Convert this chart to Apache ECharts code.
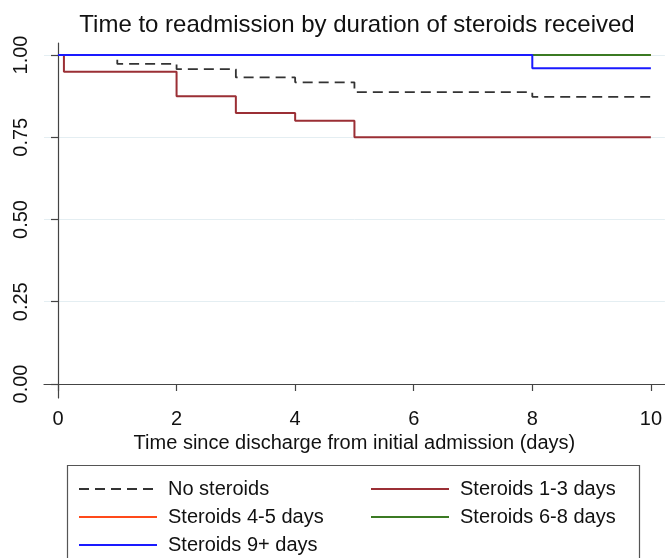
<!DOCTYPE html>
<html><head><meta charset="utf-8">
<script src="https://cdn.jsdelivr.net/npm/echarts@6/dist/echarts.min.js"></script>
<style>html,body{margin:0;padding:0;background:#fff}#c{width:665px;height:558px}</style>
</head><body><div id="c"></div>
<script>
const xTicks = [0, 2, 4, 6, 8, 10];
const yTicks = [0, 0.25, 0.5, 0.75, 1];
const noSteroidsT = [0, 1, 2, 3, 4, 5, 8, 10];
const noSteroidsS = [1, 0.973, 0.957, 0.932, 0.917, 0.887, 0.873, 0.873];
const st13T = [0, 0.1, 2, 3, 4, 5, 10];
const st13S = [1, 0.949, 0.875, 0.824, 0.80, 0.75, 0.75];
const st45T = [0, 10];
const st45S = [1, 1];
const st68T = [0, 10];
const st68S = [1, 1];
const st9T = [0, 8, 10];
const st9S = [1, 0.96, 0.96];
const names = ['No steroids', 'Steroids 1-3 days', 'Steroids 4-5 days', 'Steroids 6-8 days', 'Steroids 9+ days'];

const zip = (t, s) => t.map((v, i) => [v, s[i]]);
const FONT = 'Liberation Sans, Arial, Helvetica, sans-serif';
const chart = echarts.init(document.getElementById('c'), null, {renderer: 'canvas'});

function ser(name, t, s, color, type, width) {
  return {
    name, type: 'line', step: 'end', symbol: 'none', data: zip(t, s),
    lineStyle: {color, type, width}, itemStyle: {color}, animation: false
  };
}

function leg(name, left, rowCenter) {
  return {
    left, top: rowCenter - 10, orient: 'horizontal', data: [name], padding: 0,
    itemWidth: 78, itemHeight: 14, itemGap: 0,
    itemStyle: {opacity: 0, borderWidth: 0},
    textStyle: {fontFamily: FONT, fontSize: 20, color: '#111', padding: [0, 0, 0, 6]},
    selectedMode: false
  };
}

chart.setOption({
  animation: false,
  title: {
    text: 'Time to readmission by duration of steroids received',
    left: 352, textAlign: 'center', top: 8,
    textStyle: {fontFamily: FONT, fontSize: 24, fontWeight: 'normal', color: '#111'}
  },
  grid: {left: 44, right: 0, top: 43, bottom: 160, containLabel: false},
  xAxis: {
    type: 'value', min: -0.236, max: 10.236,
    name: 'Time since discharge from initial admission (days)',
    nameLocation: 'middle', nameGap: 35,
    nameTextStyle: {fontFamily: FONT, fontSize: 20, color: '#111'},
    axisLine: {show: true, lineStyle: {color: '#444', width: 1.2}},
    axisTick: {show: true, customValues: xTicks, length: 7, lineStyle: {color: '#444', width: 1.2}},
    axisLabel: {customValues: xTicks, fontFamily: FONT, fontSize: 20, color: '#111', margin: 11},
    splitLine: {show: false}
  },
  yAxis: {
    type: 'value', min: -0.0426, max: 1.0365,
    axisLine: {show: true, lineStyle: {color: '#444', width: 1.2}},
    axisTick: {show: true, customValues: yTicks, length: 7, lineStyle: {color: '#444', width: 1.2}},
    axisLabel: {customValues: yTicks, fontFamily: FONT, fontSize: 20, color: '#111', rotate: 90, margin: 13,
      formatter: v => v.toFixed(2)},
    splitLine: {show: true, lineStyle: {color: '#e4eef2', width: 1}}
  },
  legend: [
    leg(names[0], 78, 489),
    leg(names[1], 370, 489),
    leg(names[2], 78, 517),
    leg(names[3], 370, 517),
    leg(names[4], 78, 545)
  ],
  graphic: [{
    type: 'rect', shape: {x: 67.5, y: 465.5, width: 572, height: 110},
    style: {fill: null, stroke: '#555', lineWidth: 1.2}, silent: true
  }],
  series: [
    ser(names[0], noSteroidsT, noSteroidsS, '#333333', [10, 6], 1.8),
    ser(names[1], st13T, st13S, '#9b2f35', 'solid', 2),
    ser(names[2], st45T, st45S, '#ff4a1a', 'solid', 2),
    ser(names[3], st68T, st68S, '#3b7a23', 'solid', 2),
    ser(names[4], st9T, st9S, '#1a1aff', 'solid', 2)
  ]
});
</script></body></html>
